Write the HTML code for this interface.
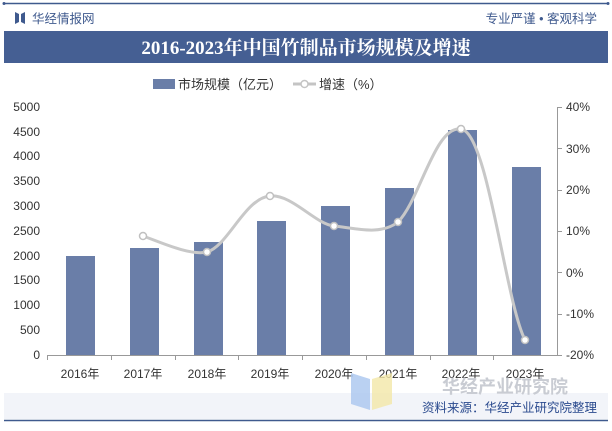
<!DOCTYPE html>
<html><head><meta charset="utf-8"><style>
body{margin:0;width:612px;height:426px;background:#fff;overflow:hidden;font-family:"Liberation Sans","Noto Sans CJK SC",sans-serif}
</style></head><body>
<svg width="612" height="426" xmlns="http://www.w3.org/2000/svg" font-family="Liberation Sans, Noto Sans CJK SC, sans-serif">
<line x1="4" y1="3.5" x2="608" y2="3.5" stroke="#3f5a8e" stroke-width="1.5"/>
<circle cx="4" cy="3.5" r="1.5" fill="#3f5a8e"/><circle cx="608" cy="3.5" r="1.5" fill="#3f5a8e"/>
<path d="M15 12 L19 14 L19 22 L15 24 Z M25 12 L21 14 L21 22 L25 24 Z" fill="#3f5a8e"/>
<text x="32" y="23" font-size="12.5" fill="#3f5a8e">华经情报网</text>
<text x="597" y="23" font-size="12.5" fill="#3f5a8e" text-anchor="end">专业严谨 • 客观科学</text>
<rect x="4" y="31" width="604" height="32" fill="#455f93"/>
<text x="306" y="54" font-size="19" font-weight="bold" fill="#fff" text-anchor="middle" font-family="Liberation Serif, Noto Serif CJK SC, serif">2016-2023年中国竹制品市场规模及增速</text>
<rect x="153" y="79" width="22" height="10" fill="#6a7ea8"/>
<text x="178" y="89" font-size="13" fill="#333">市场规模（亿元）</text>
<line x1="293" y1="84" x2="316" y2="84" stroke="#c4c4c4" stroke-width="3"/>
<circle cx="304.5" cy="84" r="3.5" fill="#fff" stroke="#c4c4c4" stroke-width="1.5"/>
<text x="319" y="89" font-size="13" fill="#333">增速（%）</text>
<g font-size="12" fill="#333">
<g text-anchor="end">
<text x="40" y="359">0</text><text x="40" y="334">500</text><text x="40" y="309">1000</text><text x="40" y="284">1500</text><text x="40" y="260">2000</text><text x="40" y="235">2500</text><text x="40" y="210">3000</text><text x="40" y="185">3500</text><text x="40" y="160">4000</text><text x="40" y="136">4500</text><text x="40" y="111">5000</text>
</g>
<text x="566" y="359">-20%</text><text x="566" y="318">-10%</text><text x="566" y="277">0%</text><text x="566" y="235">10%</text><text x="566" y="194">20%</text><text x="566" y="153">30%</text><text x="566" y="111">40%</text>
</g>
<line x1="47" y1="355.5" x2="557" y2="355.5" stroke="#999"/>
<line x1="557.5" y1="107" x2="557.5" y2="355" stroke="#999"/>
<g stroke="#999"><line x1="557" y1="107.5" x2="562" y2="107.5"/><line x1="557" y1="148.5" x2="562" y2="148.5"/><line x1="557" y1="190.5" x2="562" y2="190.5"/><line x1="557" y1="231.5" x2="562" y2="231.5"/><line x1="557" y1="272.5" x2="562" y2="272.5"/><line x1="557" y1="314.5" x2="562" y2="314.5"/><line x1="557" y1="355.5" x2="562" y2="355.5"/>
<line x1="47.5" y1="355" x2="47.5" y2="360"/><line x1="111.5" y1="355" x2="111.5" y2="360"/><line x1="175.5" y1="355" x2="175.5" y2="360"/><line x1="238.5" y1="355" x2="238.5" y2="360"/><line x1="302.5" y1="355" x2="302.5" y2="360"/><line x1="366.5" y1="355" x2="366.5" y2="360"/><line x1="430.5" y1="355" x2="430.5" y2="360"/><line x1="493.5" y1="355" x2="493.5" y2="360"/></g>
<g fill="#6a7ea8">
<rect x="66" y="256" width="29" height="99"/>
<rect x="130" y="248" width="29" height="107"/>
<rect x="194" y="242" width="29" height="113"/>
<rect x="257" y="221" width="29" height="134"/>
<rect x="321" y="206" width="29" height="149"/>
<rect x="385" y="188" width="29" height="167"/>
<rect x="448" y="130" width="29" height="225"/>
<rect x="512" y="167" width="29" height="188"/>
</g>
<path d="M143 236 C160 242,190 256,207 252 C228 246,245 198,270 196 C292 194,315 224,334 226 C355 228,380 236,398 222 C420 200,435 125,461 129 C488 133,505 300,525 340" fill="none" stroke="#c8c8c8" stroke-width="3"/>
<g fill="#fff" stroke="#c0c0c0" stroke-width="1.5">
<circle cx="143" cy="236" r="3.5"/><circle cx="207" cy="252" r="3.5"/><circle cx="270" cy="196" r="3.5"/><circle cx="334" cy="226" r="3.5"/><circle cx="398" cy="222" r="3.5"/><circle cx="461" cy="129" r="3.5"/><circle cx="525" cy="340" r="3.5"/></g>
<g font-size="12" fill="#333" text-anchor="middle">
<text x="80" y="378">2016年</text><text x="143" y="378">2017年</text><text x="207" y="378">2018年</text><text x="270" y="378">2019年</text><text x="334" y="378">2020年</text><text x="398" y="378">2021年</text><text x="461" y="378">2022年</text><text x="525" y="378">2023年</text>
</g>
<rect x="4" y="393" width="604" height="26" fill="#f2f4f9"/>
<polygon points="351,373 370,379 370,410 351,404" fill="#a9c6ef" opacity="0.8"/>
<polygon points="372,379 392,373 392,404 372,410" fill="#f3e7a8" opacity="0.8"/>
<text x="505" y="393" font-size="18" font-weight="bold" fill="#c9ccd3" text-anchor="middle">华经产业研究院</text>
<text x="597" y="412" font-size="12.5" fill="#2a4a8e" text-anchor="end">资料来源：华经产业研究院整理</text>
<line x1="4" y1="420.5" x2="608" y2="420.5" stroke="#3f5a8e" stroke-width="1.5"/>
</svg>
</body></html>
